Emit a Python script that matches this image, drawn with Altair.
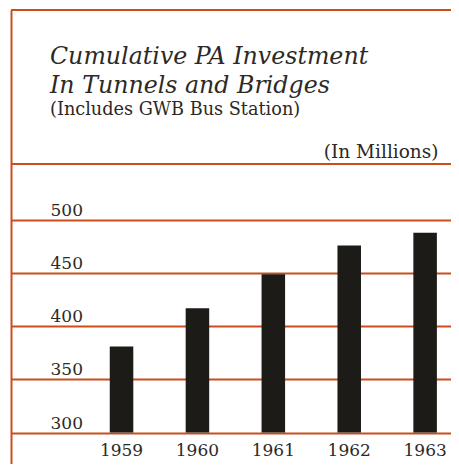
import altair as alt
import pandas as pd

# Data (millions of dollars)
years = ["1959", "1960", "1961", "1962", "1963"]
investment = [381, 417, 449, 476, 488]
y_ticks = [300, 350, 400, 450, 500]

RED = "#c94e1c"
TEXT = "#2d2925"
BAR = "#1d1b18"
SERIF = "DejaVu Serif"

W, H = 440, 454

df = pd.DataFrame({"year": years, "value": investment})

base = alt.Chart(df)

bars = base.mark_bar(color=BAR).encode(
    x=alt.X(
        "year:O",
        scale=alt.Scale(paddingInner=0.69, paddingOuter=0.7436, align=0.875),
        axis=alt.Axis(
            orient="bottom", offset=-31.5, domain=False, ticks=False, tickSize=0,
            grid=False, labelAngle=0, labelPadding=10, labelFont=SERIF,
            labelFontSize=17, labelColor=TEXT, title=None,
        ),
    ),
    y=alt.Y(
        "value:Q",
        scale=alt.Scale(domain=[270.4, 697.6], nice=False, zero=False),
        axis=alt.Axis(
            values=y_ticks, grid=True, gridColor=RED, gridWidth=2,
            domain=True, domainColor=RED, domainWidth=2,
            ticks=False, tickSize=0, labelAlign="left", labelPadding=-39,
            labelBaseline="alphabetic", labelOffset=-4.5, labelFont=SERIF,
            labelFontSize=17, labelColor=TEXT,
            title="(In Millions)", titleAngle=0, titleX=427, titleY=147,
            titleAlign="right", titleBaseline="alphabetic", titleFont=SERIF,
            titleFontSize=18.5, titleFontWeight="normal", titleColor=TEXT,
        ),
    ),
    y2=alt.datum(300),
)

top_rule = alt.Chart(df).mark_rule(color=RED, strokeWidth=2).encode(
    x=alt.value(0), x2=alt.value(W), y=alt.value(0)
)
header_rule = alt.Chart(df).mark_rule(color=RED, strokeWidth=2).encode(
    x=alt.value(0), x2=alt.value(W), y=alt.value(154)
)

chart = alt.layer(bars, top_rule, header_rule).properties(
    width=W,
    height=H,
    autosize="none",
    padding={"left": 3, "top": 2, "right": 0, "bottom": 0},
    background="white",
    title=alt.Title(
        text=["Cumulative PA Investment", "In Tunnels and Bridges"],
        subtitle="(Includes GWB Bus Station)",
        anchor="start", frame="group", orient="top", offset=0,
        dx=39, dy=110,
        font=SERIF, fontStyle="italic", fontWeight="normal", fontSize=23.7,
        lineHeight=29, color=TEXT,
        subtitleFont=SERIF, subtitleFontSize=17.7, subtitleColor=TEXT,
        subtitleFontWeight="normal", subtitlePadding=4,
    ),
).configure_view(stroke=None)

chart.save("out.html", embed_options={"renderer": "svg", "actions": False})
